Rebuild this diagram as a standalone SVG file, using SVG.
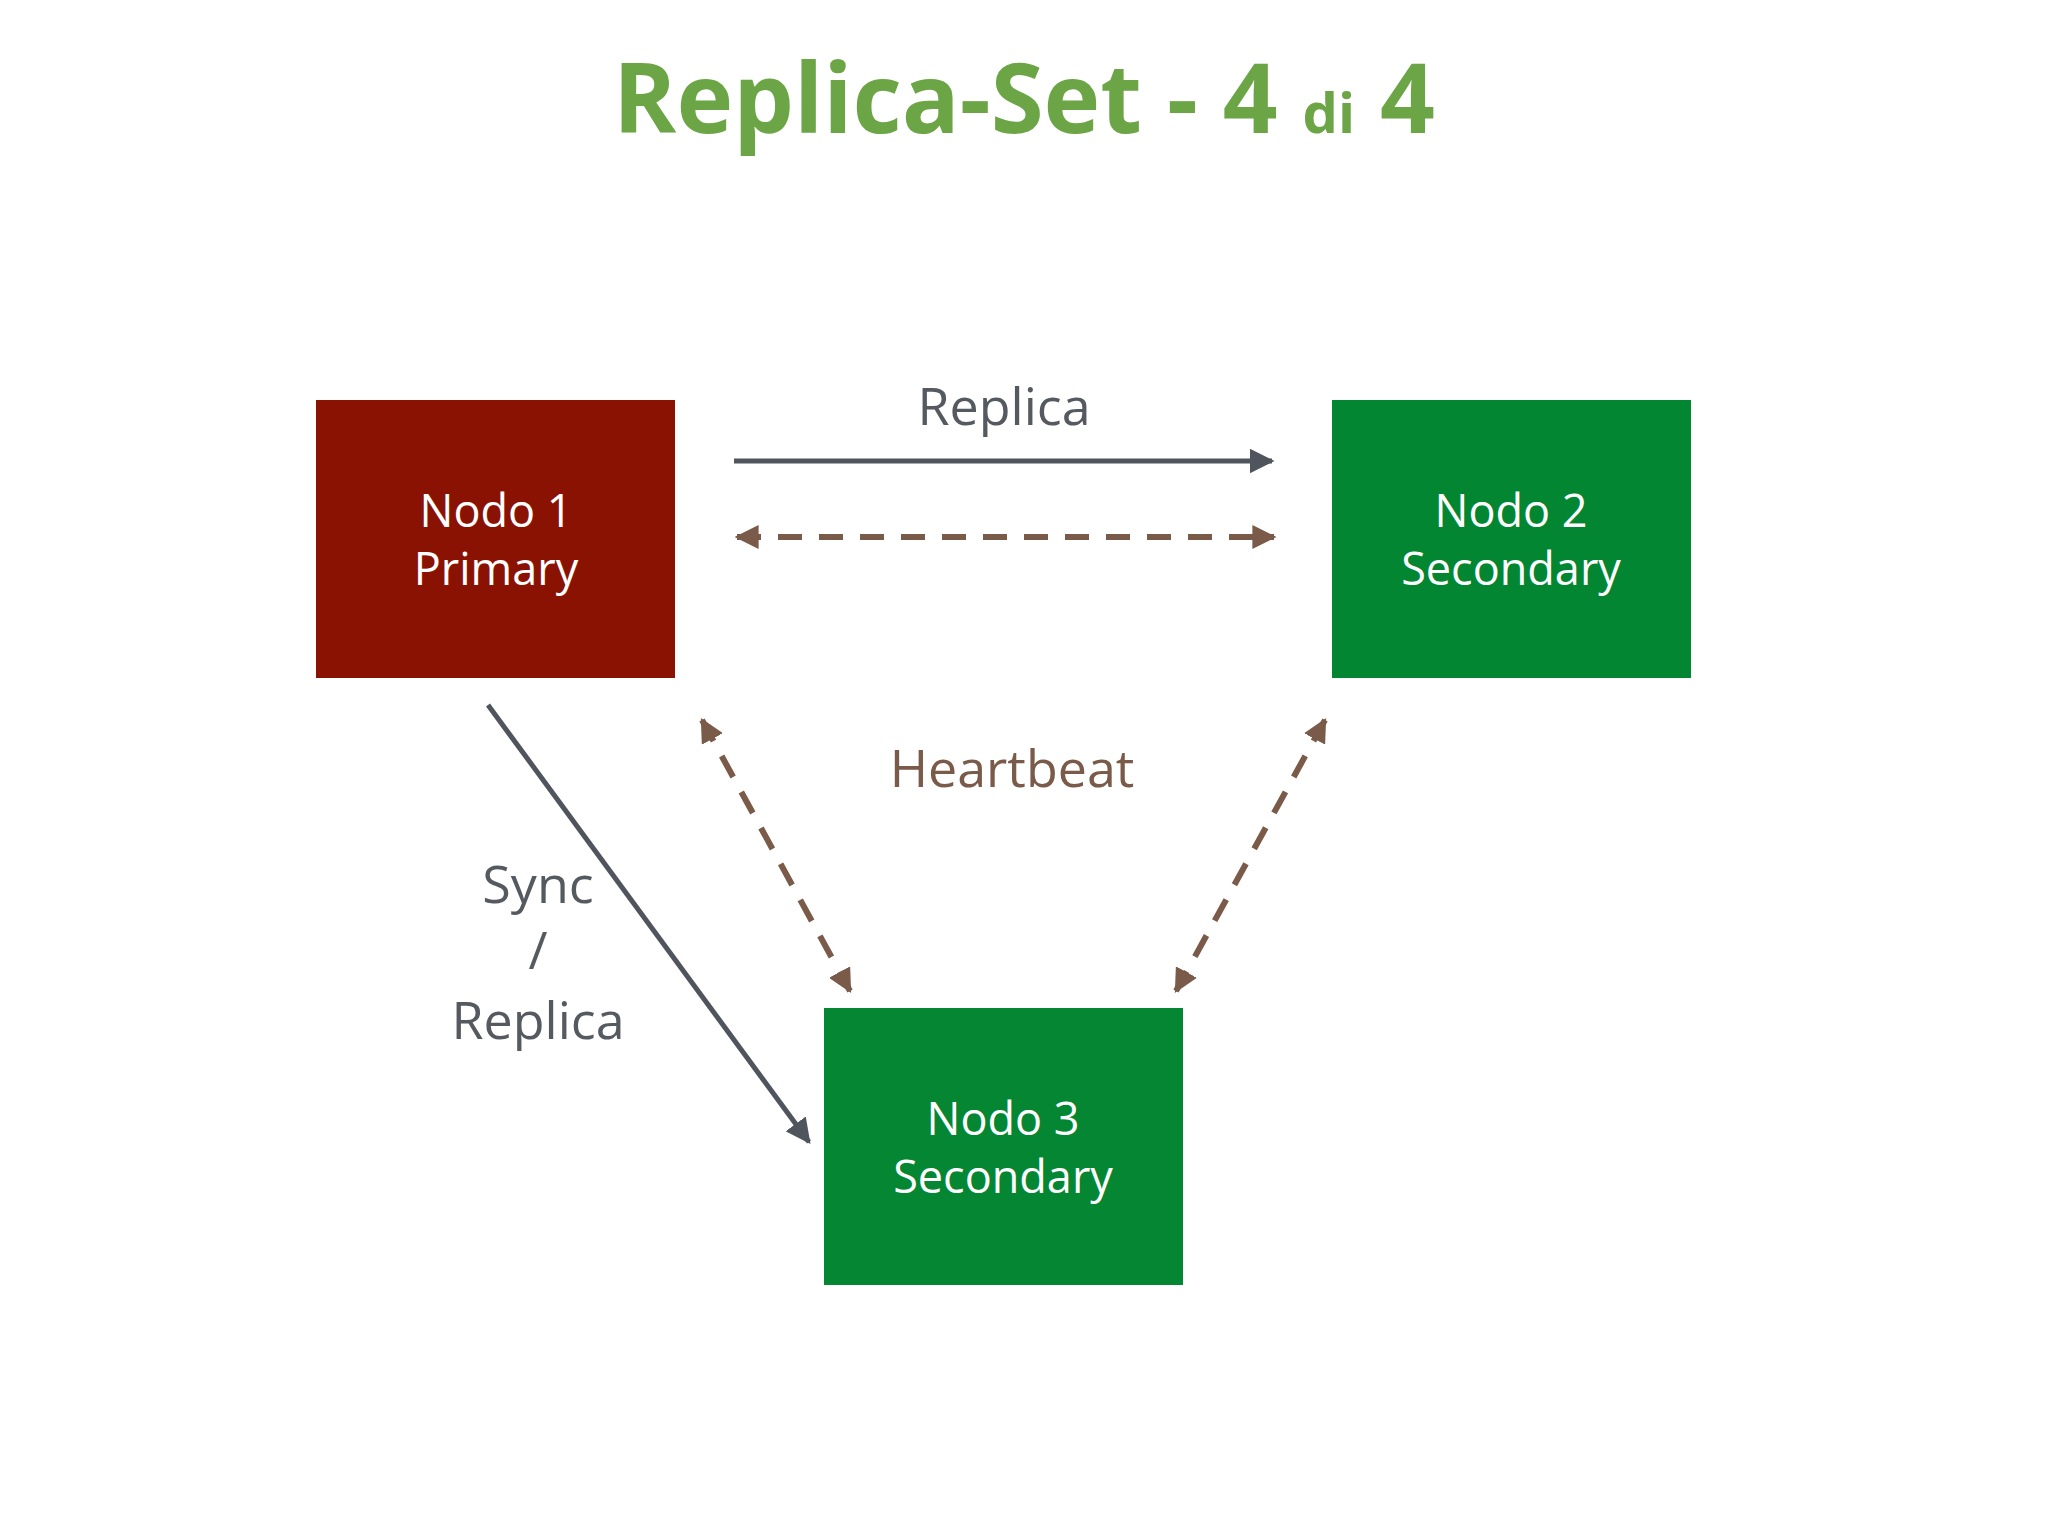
<svg xmlns="http://www.w3.org/2000/svg" width="2048" height="1536" viewBox="0 0 2048 1536">
<style>
.t{font-family:"Open Sans","Liberation Sans",sans-serif;text-anchor:middle}
.n{fill:#fff;font-size:45px}
.g{fill:#555a60;font-size:52px}
.solid{stroke:#50545c;stroke-width:5;fill:none}
.dash{stroke:#7a5a48;stroke-width:6;stroke-dasharray:24 17;fill:none}
</style>
<defs>
<marker id="ag" viewBox="0 0 10 10" refX="9" refY="5" markerWidth="5" markerHeight="5" orient="auto-start-reverse"><path d="M0,0L10,5L0,10z" fill="#50545c"/></marker>
<marker id="ab" viewBox="0 0 10 10" refX="9" refY="5" markerWidth="4" markerHeight="4" orient="auto-start-reverse"><path d="M0,0L10,5L0,10z" fill="#7a5a48"/></marker>
</defs>
<rect width="2048" height="1536" fill="#fff"/>
<text x="1024" y="133" class="t" font-weight="bold" fill="#6ca545" font-size="96">Replica-Set - 4 <tspan font-size="56">di</tspan> 4</text>
<g id="node1"><rect x="316" y="400" width="359" height="278" fill="#8a1203"/><text class="t n" x="496" y="527">Nodo 1</text><text class="t n" x="496" y="585">Primary</text></g>
<g id="node2"><rect x="1332" y="400" width="359" height="278" fill="#038631"/><text class="t n" x="1511" y="527">Nodo 2</text><text class="t n" x="1511" y="585">Secondary</text></g>
<g id="node3"><rect x="824" y="1008" width="359" height="277" fill="#058632"/><text class="t n" x="1003" y="1135">Nodo 3</text><text class="t n" x="1003" y="1193">Secondary</text></g>
<g id="connectors">
<line class="solid" x1="734" y1="461" x2="1272" y2="461" marker-end="url(#ag)"/>
<line class="dash" x1="737" y1="537" x2="1274" y2="537" marker-start="url(#ab)" marker-end="url(#ab)"/>
<line class="solid" x1="488" y1="705" x2="809" y2="1142" marker-end="url(#ag)"/>
<line class="dash" x1="702" y1="720" x2="850" y2="991" marker-start="url(#ab)" marker-end="url(#ab)"/>
<line class="dash" x1="1325" y1="720" x2="1176" y2="991" marker-start="url(#ab)" marker-end="url(#ab)"/>
</g>
<text class="t g" x="1004" y="425">Replica</text>
<text class="t" x="1012" y="787" fill="#7a5a48" font-size="52">Heartbeat</text>
<text class="t g" x="538" y="903">Sync</text>
<text class="t g" x="538" y="969">/</text>
<text class="t g" x="538" y="1039">Replica</text>
</svg>
